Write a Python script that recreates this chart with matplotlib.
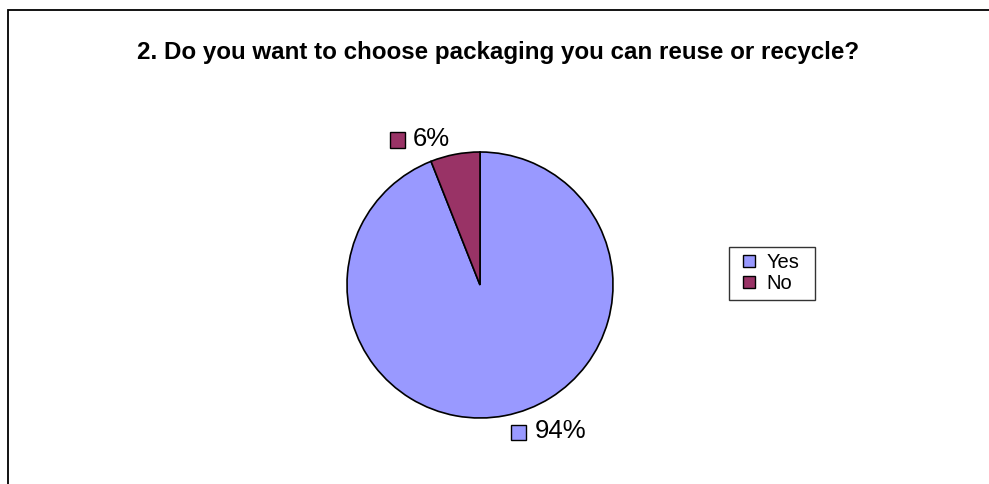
import matplotlib
matplotlib.use("Agg")
import matplotlib.pyplot as plt
import numpy as np
from matplotlib.patches import Rectangle
from matplotlib.lines import Line2D
from matplotlib.offsetbox import DrawingArea, TextArea, HPacker, AnnotationBbox

title = "2. Do you want to choose packaging you can reuse or recycle?"
categories = ["Yes", "No"]
values = [94, 6]
label_texts = ["94%", "6%"]
colors = ["#9999FF", "#993366"]

plt.rcParams['font.family'] = ['Liberation Sans', 'DejaVu Sans']

W, H = 989, 484
fig = plt.figure(figsize=(W / 100, H / 100), dpi=100)
fig.patch.set_facecolor("white")

# outer chart border (extends beyond right/bottom edges)
fig.patches.append(Rectangle((8 / W, -0.1), 1.2, 1.1 - 10 / H, transform=fig.transFigure,
                             fill=False, edgecolor="black", linewidth=1.3))

fig.text(498 / W, 1 - 52 / H, title, ha="center", va="center",
         fontsize=17.4, fontweight="bold")

cx, cy, r = 480, 285, 133
ax = fig.add_axes([(cx - r) / W, (H - cy - r) / H, 2 * r / W, 2 * r / H])

wedges, _ = ax.pie(values, colors=colors, startangle=90, counterclock=False,
                   radius=1, wedgeprops=dict(edgecolor="black", linewidth=1.2))
ax.set_xlim(-1, 1)
ax.set_ylim(-1, 1)
ax.set_aspect("equal")
ax.axis("off")

for w, txt, col in zip(wedges, label_texts, colors):
    mid = np.deg2rad((w.theta1 + w.theta2) / 2)
    x, y = 1.19 * np.cos(mid), 1.12 * np.sin(mid)
    da = DrawingArea(13, 13, 0, 0)
    da.add_artist(Rectangle((1, 0), 11, 11, facecolor=col, edgecolor="black", linewidth=1))
    ta = TextArea(txt, textprops=dict(fontsize=18.5))
    box = HPacker(children=[da, ta], align="center", pad=0, sep=5)
    ab = AnnotationBbox(box, (x, y), frameon=False, box_alignment=(1 if x < 0 else 0, 0.5),
                        annotation_clip=False)
    ax.add_artist(ab)

handles = [Line2D([], [], marker="s", linestyle="none", markersize=8,
                  markerfacecolor=c, markeredgecolor="black", markeredgewidth=1) for c in colors]
leg = fig.legend(handles, categories, loc="upper left", mode="expand",
                 bbox_to_anchor=(729 / W, 1 - 295 / H, 86 / W, 48 / H),
                 fontsize=14.5, frameon=True, fancybox=False, edgecolor="black",
                 handlelength=1.4, handletextpad=0.15,
                 labelspacing=0.12, borderpad=0.3, borderaxespad=0)
leg.get_frame().set_linewidth(1)

fig.savefig("out.png", dpi=100, facecolor="white")
